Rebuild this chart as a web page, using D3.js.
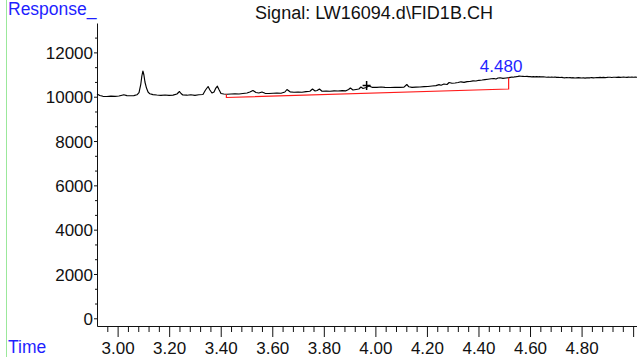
<!DOCTYPE html>
<html>
<head>
<meta charset="utf-8">
<script src="https://cdn.jsdelivr.net/npm/d3@7"></script>
<style>
  html, body { margin: 0; padding: 0; background: #fff; }
  svg { display: block; font-family: "Liberation Sans", Arial, sans-serif; }
</style>
</head>
<body>
<svg id="chart" width="637" height="357"></svg>
<script>
// FID signal trace: retention time (min) and detector response
const times = [
  2.920, 2.931, 2.943, 2.958, 2.974, 2.990, 3.005, 3.017, 3.024, 3.036,
  3.052, 3.063, 3.075, 3.083, 3.090, 3.094, 3.098, 3.102, 3.106, 3.112,
  3.118, 3.125, 3.137, 3.152, 3.168, 3.184, 3.199, 3.215, 3.230, 3.240,
  3.246, 3.253, 3.269, 3.284, 3.300, 3.315, 3.331, 3.341, 3.351, 3.358,
  3.366, 3.374, 3.381, 3.387, 3.393, 3.401, 3.412, 3.424, 3.440, 3.455,
  3.471, 3.486, 3.502, 3.513, 3.525, 3.537, 3.548, 3.560, 3.572, 3.587,
  3.603, 3.618, 3.634, 3.649, 3.657, 3.669, 3.684, 3.700, 3.715, 3.731,
  3.746, 3.756, 3.766, 3.774, 3.783, 3.793, 3.809, 3.824, 3.840, 3.855,
  3.871, 3.886, 3.896, 3.903, 3.913, 3.925, 3.936, 3.944, 3.952, 3.964,
  3.975, 3.987, 4.006, 4.022, 4.037, 4.057, 4.076, 4.095, 4.111, 4.122,
  4.130, 4.142, 4.157, 4.173, 4.189, 4.204, 4.220, 4.235, 4.247, 4.255,
  4.266, 4.278, 4.286, 4.297, 4.309, 4.321, 4.332, 4.344, 4.356, 4.367,
  4.379, 4.390, 4.402, 4.414, 4.425, 4.437, 4.449, 4.460, 4.468, 4.476,
  4.484, 4.495, 4.507, 4.518, 4.524, 4.530, 4.535, 4.541, 4.547, 4.553,
  4.559, 4.565, 4.572, 4.580, 4.588, 4.595, 4.600, 4.607, 4.613, 4.619,
  4.626, 4.632, 4.639, 4.645, 4.652, 4.658, 4.665, 4.671, 4.678, 4.684,
  4.690, 4.697, 4.703, 4.710, 4.716, 4.723, 4.729, 4.736, 4.742, 4.749,
  4.755, 4.762, 4.768, 4.775, 4.781, 4.788, 4.794, 4.800, 4.807, 4.813,
  4.820, 4.826, 4.833, 4.839, 4.846, 4.852, 4.859, 4.865, 4.872, 4.878,
  4.885, 4.891, 4.898, 4.904, 4.911, 4.917, 4.924, 4.930, 4.937, 4.943,
  4.950, 4.956, 4.963, 4.969, 4.976, 4.982, 4.988, 4.995, 5.002, 5.008,
  5.015
];
const response = [
  10122, 10054, 10018, 10009, 10023, 10014, 10032, 10068, 10086, 10050,
  10041, 10050, 10086, 10189, 10573, 10934, 11160, 10979, 10663, 10392,
  10212, 10131, 10095, 10077, 10063, 10077, 10059, 10073, 10122, 10235,
  10144, 10077, 10068, 10086, 10063, 10086, 10099, 10302, 10460, 10302,
  10167, 10212, 10392, 10474, 10325, 10144, 10122, 10113, 10122, 10131,
  10122, 10144, 10167, 10212, 10280, 10189, 10167, 10212, 10153, 10144,
  10158, 10167, 10158, 10212, 10325, 10221, 10203, 10212, 10203, 10230,
  10248, 10347, 10257, 10280, 10347, 10248, 10257, 10248, 10266, 10257,
  10275, 10266, 10325, 10392, 10302, 10325, 10347, 10438, 10370, 10415,
  10483, 10424, 10420, 10438, 10424, 10415, 10424, 10420, 10429, 10551,
  10447, 10424, 10429, 10438, 10456, 10460, 10483, 10501, 10546, 10519,
  10573, 10551, 10641, 10605, 10618, 10641, 10672, 10645, 10681, 10686,
  10717, 10708, 10740, 10753, 10771, 10790, 10808, 10821, 10799, 10844,
  10853, 10826, 10844, 10862, 10875, 10889, 10880, 10898, 10905, 10916,
  10930, 10925, 10918, 10912, 10920, 10905, 10907, 10895, 10904, 10898,
  10908, 10896, 10903, 10892, 10897, 10889, 10878, 10886, 10880, 10890,
  10879, 10889, 10874, 10880, 10867, 10872, 10860, 10853, 10866, 10857,
  10862, 10850, 10858, 10844, 10852, 10860, 10853, 10845, 10856, 10839,
  10848, 10857, 10853, 10862, 10850, 10857, 10866, 10860, 10871, 10864,
  10872, 10862, 10870, 10880, 10876, 10868, 10878, 10880, 10872, 10882,
  10871, 10879, 10885, 10880, 10874, 10881, 10876, 10883, 10877, 10882,
  10880
];

// integration baseline of the labelled peak: [start, end]
const baseTimes = [3.422, 4.517];
const baseValues = [9964, 10348];
const peakLabel = "4.480";
const peakTime = 4.480;
const peakLabelValue = 11070;

// marker "+"
const markerTime = 3.966;
const markerValue = 10505;

// axis ticks
const xMajorTicks = [3.0, 3.2, 3.4, 3.6, 3.8, 4.0, 4.2, 4.4, 4.6, 4.8, 5.0];
const xMinorTicks = [2.96, 3.04, 3.08, 3.12, 3.16, 3.24, 3.28, 3.32, 3.36, 3.44, 3.48, 3.52, 3.56,
  3.64, 3.68, 3.72, 3.76, 3.84, 3.88, 3.92, 3.96, 4.04, 4.08, 4.12, 4.16, 4.24, 4.28, 4.32, 4.36,
  4.44, 4.48, 4.52, 4.56, 4.64, 4.68, 4.72, 4.76, 4.84, 4.88, 4.92, 4.96];
const yMajorTicks = [0, 2000, 4000, 6000, 8000, 10000, 12000];
const yMinorTicks = [667, 1333, 2667, 3333, 4667, 5333, 6667, 7333, 8667, 9333, 10667, 11333, 12667, 13333];

const titleText = "Signal: LW16094.d\\FID1B.CH";
const yTitle = "Response_";
const xTitle = "Time";

const svg = d3.select("#chart");
const W = 637, H = 357;
const plotLeft = 97, plotRight = 637, plotTop = 23, plotBottom = 326;

const x = d3.scaleLinear().domain([2.92, 5.015]).range([plotLeft, plotRight]);
const y = d3.scaleLinear().domain([-347, 13326]).range([plotBottom, plotTop]);

// thin green frame line at the left edge
svg.append("line")
  .attr("x1", 6.5).attr("x2", 6.5).attr("y1", 0).attr("y2", H)
  .attr("stroke", "#9be89b").attr("stroke-width", 1);

// axes
const fontSize = "17px";
const xAxis = svg.append("g").attr("transform", `translate(0,${plotBottom})`)
  .call(d3.axisBottom(x).tickValues(xMajorTicks).tickSize(11).tickSizeOuter(0)
    .tickFormat(d => d > 4.9 ? "" : d.toFixed(2)));
xAxis.select(".domain").attr("stroke", "#111");
xAxis.selectAll(".tick line").attr("stroke", "#111");
xAxis.selectAll(".tick text").attr("y", 28).attr("dy", null)
  .attr("font-size", fontSize).attr("fill", "#111");

svg.append("g").attr("transform", `translate(0,${plotBottom})`)
  .call(d3.axisBottom(x).tickValues(xMinorTicks).tickSize(6).tickSizeOuter(0).tickFormat(""))
  .call(g => g.select(".domain").remove())
  .selectAll(".tick line").attr("stroke", "#111");

const yAxis = svg.append("g").attr("transform", `translate(${plotLeft},0)`)
  .call(d3.axisLeft(y).tickValues(yMajorTicks).tickSize(3).tickSizeOuter(0)
    .tickFormat(d3.format("d")));
yAxis.select(".domain").attr("stroke", "#111");
yAxis.selectAll(".tick line").attr("stroke", "#111");
yAxis.selectAll(".tick text").attr("x", -4).attr("dy", "0.36em")
  .attr("font-size", fontSize).attr("fill", "#111");

svg.append("g").attr("transform", `translate(${plotLeft},0)`)
  .call(d3.axisLeft(y).tickValues(yMinorTicks.filter(v => v <= 13326)).tickSize(2).tickSizeOuter(0).tickFormat(""))
  .call(g => g.select(".domain").remove())
  .selectAll(".tick line").attr("stroke", "#111");

// titles
svg.append("text").attr("x", 374).attr("y", 19)
  .attr("text-anchor", "middle").attr("font-size", "18px").attr("fill", "#111")
  .text(titleText);
svg.append("text").attr("x", 8).attr("y", 15)
  .attr("font-size", "17.5px").attr("fill", "#1f1fff").text(yTitle);
svg.append("text").attr("x", 8).attr("y", 353)
  .attr("font-size", "17.5px").attr("fill", "#1f1fff").text(xTitle);

// signal trace
const pts = times.map((t, i) => [t, response[i]]);
const line = d3.line().x(d => x(d[0])).y(d => y(d[1]));
svg.append("path").datum(pts)
  .attr("d", line)
  .attr("fill", "none").attr("stroke", "#000").attr("stroke-width", 1.15)
  .attr("stroke-linejoin", "round");

// response of the trace at a given time
const traceAt = t => {
  const i = d3.bisector(d => d[0]).left(pts, t);
  if (i <= 0) return pts[0][1];
  if (i >= pts.length) return pts[pts.length - 1][1];
  const a = pts[i - 1], b = pts[i];
  return a[1] + (b[1] - a[1]) * (t - a[0]) / (b[0] - a[0]);
};

// integration baseline with drop lines to the trace
const basePts = [
  [baseTimes[0], traceAt(baseTimes[0])],
  [baseTimes[0], baseValues[0]],
  [baseTimes[1], baseValues[1]],
  [baseTimes[1], traceAt(baseTimes[1])]
];
svg.append("path").datum(basePts)
  .attr("d", line)
  .attr("fill", "none").attr("stroke", "#ff1a1a").attr("stroke-width", 1.2);

// peak label
svg.append("text").attr("x", x(peakTime) + 2).attr("y", y(peakLabelValue) - 0.5)
  .attr("text-anchor", "middle").attr("font-size", fontSize).attr("fill", "#1f1fff")
  .text(peakLabel);

// "+" marker
const mx = x(markerTime), my = y(markerValue);
svg.append("path")
  .attr("d", `M${mx - 4},${my}H${mx + 4}M${mx},${my - 4.5}V${my + 4.5}`)
  .attr("stroke", "#000").attr("stroke-width", 1.5);
</script>
</body>
</html>
